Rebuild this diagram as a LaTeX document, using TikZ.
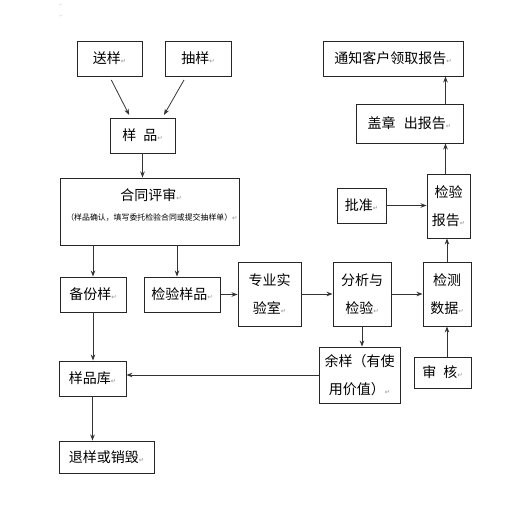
\documentclass[tikz,border=0pt]{standalone}
\usepackage{fontspec}
\setmainfont{Noto Sans CJK SC}
\newfontfamily\dvfont{DejaVu Sans}
\usetikzlibrary{arrows.meta}
\newcommand\rmark{{\dvfont\fontsize{6.5}{6.5}\selectfont\textcolor{gray!85}{↵}}}
\begin{document}
\begin{tikzpicture}[x=1pt,y=-1pt,
  box/.style={draw=black!85, line width=0.9pt, inner sep=0pt, align=center,
    font=\fontsize{14}{28}\selectfont},
  lbl/.style={inner sep=0pt, align=center, font=\fontsize{14}{28}\selectfont},
  arr/.style={draw=black!80, line width=0.8pt, -{Stealth[length=6pt,width=4.5pt]}}]
\useasboundingbox (0,0) rectangle (531,516);
\node[inner sep=0pt] (m1) at (61,5) {{\dvfont\fontsize{4}{4}\selectfont\textcolor{gray!40}{↵}}};
\node[inner sep=0pt] (m2) at (61,16) {{\dvfont\fontsize{4}{4}\selectfont\textcolor{gray!40}{↵}}};
% boxes
\node[box, minimum width=65pt, minimum height=35pt] (s1) at (109.5,58.5) {送样\rmark};
\node[box, minimum width=66pt, minimum height=35pt] (s2) at (198,58.5) {抽样\rmark};
\node[box, minimum width=65pt, minimum height=35pt] (yp) at (142.5,135.5) {样\hspace{0.5em}品\rmark};
\node[box, minimum width=179pt, minimum height=67pt] (ht) at (149.5,211.5) {};
\node[lbl] (htt) at (151,195) {合同评审\rmark};
\node[inner sep=0pt, font=\fontsize{7.9}{9}\selectfont] (hts) at (152,218) {（样品确认，填写委托检验合同或提交抽样单）\rmark};
\node[box, minimum width=66pt, minimum height=35pt] (bf) at (93,294.5) {备份样\rmark};
\node[box, minimum width=76pt, minimum height=35pt] (jy) at (182,294.5) {检验样品\rmark};
\node[box, minimum width=63pt, minimum height=64pt] (zy) at (269.5,294) {专业实\\验室\rmark};
\node[box, minimum width=58pt, minimum height=64pt] (fx) at (362,294) {分析与\\检验\rmark};
\node[box, minimum width=48pt, minimum height=64pt] (sj) at (447,294) {检测\\数据\rmark};
\node[box, minimum width=81pt, minimum height=56pt] (ys) at (359.5,375) {余样（有使\\用价值）\rmark};
\node[box, minimum width=57pt, minimum height=31pt] (sh) at (442.5,372.5) {审\hspace{0.5em}核\rmark};
\node[box, minimum width=67pt, minimum height=35pt] (ypk) at (92.5,378.5) {样品库\rmark};
\node[box, minimum width=95pt, minimum height=32pt] (th) at (106.5,457) {退样或销毁\rmark};
\node[box, minimum width=140pt, minimum height=35pt] (tz) at (393,58.5) {通知客户领取报告\rmark};
\node[box, minimum width=107pt, minimum height=39pt] (gz) at (409.5,123.5) {盖章\hspace{0.6em}出报告\rmark};
\node[box, minimum width=43pt, minimum height=64pt] (bg) at (448.5,206) {检验\\报告\rmark};
\node[box, minimum width=49pt, minimum height=35pt] (pz) at (361.5,205.5) {批准\rmark};
% connectors
\draw[arr, shorten <=4pt, shorten >=3pt] (s1.south) -- ([xshift=-12pt]yp.north);
\draw[arr, shorten <=4pt, shorten >=3pt] ([xshift=-12pt]s2.south) -- ([xshift=20pt]yp.north);
\draw[arr] (yp.south) -- (yp.south |- ht.north);
\draw[arr] (bf.north |- ht.south) -- (bf.north);
\draw[arr] ([xshift=-5pt]jy.north |- ht.south) -- ([xshift=-5pt]jy.north);
\draw[arr] (jy.east) -- (jy.east -| zy.west);
\draw[arr] (zy.east) -- (zy.east -| fx.west);
\draw[arr] (fx.east) -- (fx.east -| sj.west);
\draw[arr] (fx.south) -- (fx.south |- ys.north);
\draw[arr] (ys.west) -- (ys.west -| ypk.east);
\draw[arr] (bf.south) -- (bf.south |- ypk.north);
\draw[arr] (ypk.south) -- (ypk.south |- th.north);
\draw[arr] (sj.south |- sh.north) -- (sj.south);
\draw[arr] (sj.north) -- (sj.north |- bg.south);
\draw[arr] (pz.east) -- (pz.east -| bg.west);
\draw[arr] ([xshift=-3pt]bg.north) -- ([xshift=-3pt]bg.north |- gz.south);
\draw[arr] ([xshift=-3pt]bg.north |- gz.north) -- ([xshift=-3pt]bg.north |- tz.south);
\end{tikzpicture}
\end{document}
